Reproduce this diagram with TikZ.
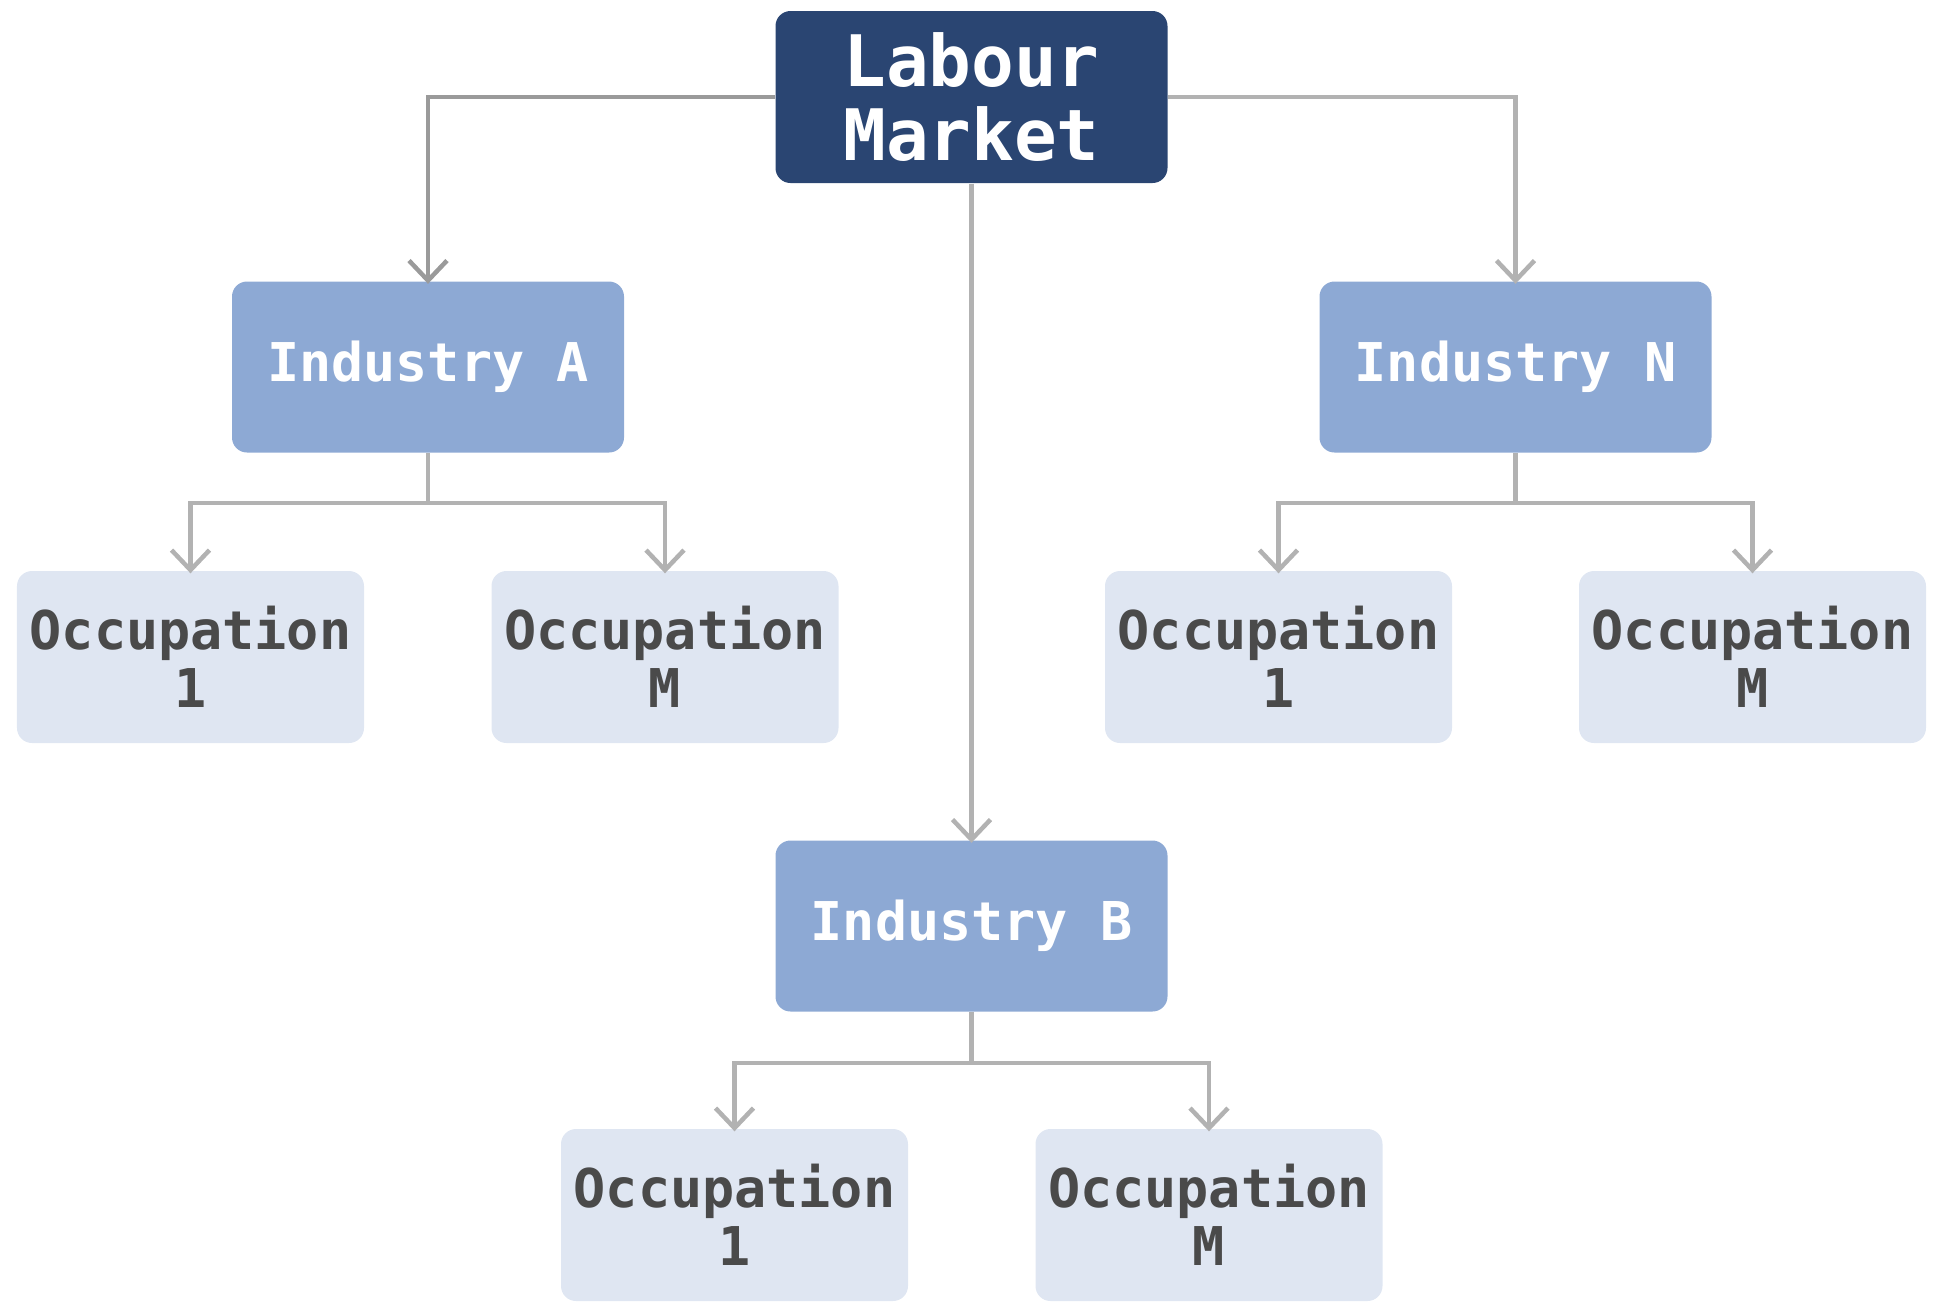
\documentclass[tikz,border=0pt]{standalone}
\usepackage{fontspec}
\setmonofont{DejaVu Sans Mono}
\usetikzlibrary{arrows.meta}

\definecolor{marketblue}{HTML}{2A4572}
\definecolor{industryblue}{HTML}{8DA9D4}
\definecolor{occupationblue}{HTML}{DFE6F2}
\definecolor{occupationtext}{HTML}{4A4A4A}
\definecolor{linkgray}{HTML}{B2B2B2}
\definecolor{linkdark}{HTML}{9A9A9A}

\begin{document}
\begin{tikzpicture}[
  box/.style={rounded corners=0.15cm, inner sep=0pt, align=center, font=\ttfamily\bfseries},
  market/.style={box, fill=marketblue, text=white, minimum width=3.92cm, minimum height=1.72cm,
    font=\ttfamily\bfseries\fontsize{20.2pt}{20.8pt}\selectfont},
  industry/.style={box, fill=industryblue, text=white, minimum width=3.92cm, minimum height=1.71cm,
    font=\ttfamily\bfseries\fontsize{15.2pt}{16.5pt}\selectfont},
  occupation/.style={box, fill=occupationblue, text=occupationtext, minimum width=3.47cm, minimum height=1.72cm,
    font=\ttfamily\bfseries\fontsize{15.2pt}{16.5pt}\selectfont},
  link/.style={draw=linkgray, line width=0.045cm, shorten >=-0.03cm,
    -{Straight Barb[length=0.2cm, width=0.38cm]}}]
  \useasboundingbox (0, 0) rectangle (19.47, -13.12);

  % Labour market
  \node[market] (LM) at (9.715, -0.97) {Labour\\Market};

  % industries
  \node[industry] (IA) at (4.28, -3.67) {Industry A};
  \node[industry] (IN) at (15.155, -3.67) {Industry N};
  \node[industry] (IB) at (9.715, -9.26) {Industry B};

  % occupations of A
  \node[occupation] (OA1) at (1.905, -6.57) {Occupation\\1};
  \node[occupation] (OAM) at (6.65, -6.57) {Occupation\\M};

  % occupations of N
  \node[occupation] (ON1) at (12.785, -6.57) {Occupation\\1};
  \node[occupation] (ONM) at (17.525, -6.57) {Occupation\\M};

  % occupations of B
  \node[occupation] (OB1) at (7.345, -12.15) {Occupation\\1};
  \node[occupation] (OBM) at (12.09, -12.15) {Occupation\\M};

  % arrows from the market
  \draw[link, draw=linkdark] (LM.west) -| (IA.north);
  \draw[link] (LM.east) -| (IN.north);
  \draw[link] (LM.south) -- (IB.north);

  % arrows to the occupations
  \draw[link] (IA.south) -- ++(0, -0.5) -| (OA1.north);
  \draw[link] (IA.south) -- ++(0, -0.5) -| (OAM.north);
  \draw[link] (IN.south) -- ++(0, -0.5) -| (ON1.north);
  \draw[link] (IN.south) -- ++(0, -0.5) -| (ONM.north);
  \draw[link] (IB.south) -- ++(0, -0.51) -| (OB1.north);
  \draw[link] (IB.south) -- ++(0, -0.51) -| (OBM.north);

\end{tikzpicture}
\end{document}
